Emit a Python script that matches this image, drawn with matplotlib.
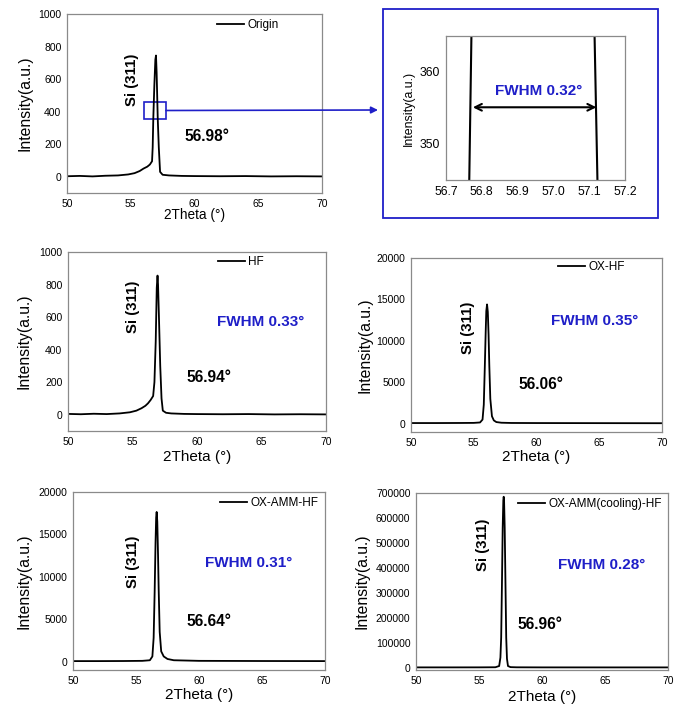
import numpy as np
import matplotlib
matplotlib.use("Agg")
import matplotlib.pyplot as plt
from matplotlib.patches import Rectangle

plt.rcParams["font.family"] = ["Liberation Sans", "DejaVu Sans"]

# =========================
# DATA
# =========================
ORIGIN_X = [50.0, 51.0, 52.0, 53.0, 54.0, 54.8, 55.3, 55.7, 56.0, 56.3, 56.5, 56.67, 56.72,
            56.765, 56.771, 56.85, 56.93, 56.98, 57.03, 57.115, 57.123, 57.2, 57.3, 57.5,
            58.0, 59.0, 60.0, 62.0, 64.0, 66.0, 68.0, 70.0]
ORIGIN_Y = [3, 5, 2, 6, 8, 14, 22, 35, 50, 62, 75, 95, 180,
            345, 365, 560, 720, 745, 640, 365, 345, 180, 30, 12,
            8, 5, 4, 3, 4, 2, 3, 2]

HF_X = [50, 51, 52, 53, 54, 54.8, 55.3, 55.7, 56.0, 56.2, 56.4, 56.6, 56.7, 56.8, 56.88,
        56.94, 56.98, 57.05, 57.15, 57.25, 57.35, 57.6, 58, 59, 60, 62, 64, 66, 68, 70]
HF_Y = [5, 3, 6, 4, 8, 15, 25, 40, 55, 70, 90, 115, 200, 450, 780,
        855, 800, 600, 300, 100, 25, 12, 8, 5, 4, 3, 4, 2, 3, 2]

OXHF_X = [50, 52, 54, 55, 55.5, 55.7, 55.8, 55.88, 55.95, 56.0, 56.06, 56.12, 56.18, 56.24,
          56.32, 56.45, 56.6, 56.8, 57.2, 58, 60, 65, 70]
OXHF_Y = [80, 80, 90, 100, 150, 500, 2300, 6800, 11000, 13600, 14400, 13500, 10800, 7000,
          3000, 900, 400, 200, 120, 90, 80, 70, 60]

OXAMM_X = [50, 52, 54, 55.5, 56.1, 56.3, 56.4, 56.48, 56.55, 56.6, 56.64, 56.69, 56.75, 56.8,
           56.88, 57.0, 57.2, 57.5, 58, 60, 65, 70]
OXAMM_Y = [50, 50, 60, 80, 150, 600, 2800, 8200, 14000, 17000, 17650, 16500, 12500, 8500,
           3500, 1200, 600, 300, 150, 80, 60, 50]

COOL_X = [50, 53, 55, 56.3, 56.6, 56.7, 56.76, 56.82, 56.88, 56.93, 56.96, 56.99, 57.04, 57.1,
          57.16, 57.22, 57.3, 57.5, 58, 60, 65, 70]
COOL_Y = [500, 500, 600, 1000, 6000, 40000, 120000, 330000, 560000, 670000, 685000, 670000,
          560000, 340000, 120000, 35000, 6000, 1500, 800, 500, 400, 400]

LABELS = ["Origin", "HF", "OX-HF", "OX-AMM-HF", "OX-AMM(cooling)-HF"]
PEAKS = ["56.98°", "56.94°", "56.06°", "56.64°", "56.96°"]
FWHM = ["0.32°", "0.33°", "0.35°", "0.31°", "0.28°"]

# =========================
# CONFIG
# =========================
W, H = 680, 710
BLUE = "#1f1fc8"
GREY = "#8a8a8a"
LW = 1.3


def px_rect(left, top, right, bottom):
    return [left / W, 1 - bottom / H, (right - left) / W, (bottom - top) / H]


def style_axes(ax, tick_size=7.5):
    for s in ax.spines.values():
        s.set_color(GREY)
        s.set_linewidth(0.9)
    ax.tick_params(length=0, labelsize=tick_size, pad=4)


def xrd_panel(fig, rect, x, y, label, ylim, yticks, leg_xy, texts, lab_coords, xlabel_size=11):
    ax = fig.add_axes(px_rect(*rect))
    ax.plot(x, y, color="black", lw=LW, label=label)
    ax.set_xlim(50, 70)
    ax.set_ylim(*ylim)
    ax.set_xticks([50, 55, 60, 65, 70])
    ax.set_yticks(yticks)
    style_axes(ax)
    ax.set_xlabel("2Theta (°)", fontsize=xlabel_size)
    ax.set_ylabel("Intensity(a.u.)", fontsize=11.3)
    ax.xaxis.set_label_coords(0.5, lab_coords[0])
    ax.yaxis.set_label_coords(lab_coords[1], 0.5)
    ax.legend(loc="center left", bbox_to_anchor=leg_xy, frameon=False, fontsize=8.5,
              borderpad=0, borderaxespad=0, handlelength=2.3, handletextpad=0.25)

    si_xy, peak_xy, fwhm_xy = texts
    ax.text(*si_xy, "Si (311)", rotation=90, ha="center", va="center",
            fontsize=10.8, fontweight="bold")
    ax.text(*peak_xy, PEAKS[LABELS.index(label)], ha="left", va="center",
            fontsize=11.2, fontweight="bold")
    if fwhm_xy is not None:
        ax.text(*fwhm_xy, "FWHM " + FWHM[LABELS.index(label)], ha="left", va="center",
                fontsize=11, fontweight="bold", color=BLUE)
    return ax


fig = plt.figure(figsize=(W / 100, H / 100), dpi=100)

# ---- Origin + zoomed inset ----
ax1 = xrd_panel(fig, (67, 14, 322, 193), ORIGIN_X, ORIGIN_Y, "Origin", (-100, 1000),
                np.arange(0, 1001, 200), (0.588, 0.939),
                ((55.1, 594), (59.25, 250), None), (-0.084, -0.137), xlabel_size=9.8)

ax1.add_patch(Rectangle((56.04, 355), 1.72, 104, fill=False, edgecolor=BLUE, lw=1.2))
ax1.annotate("", xy=(378 / W, 1 - 110 / H), xycoords="figure fraction",
             xytext=(57.76, 407), textcoords="data", annotation_clip=False,
             arrowprops=dict(arrowstyle="-|>", color=BLUE, lw=1.2,
                             shrinkA=0, shrinkB=0, mutation_scale=10))

fig.patches.append(Rectangle((383 / W, 1 - 218 / H), 275 / W, 209 / H, fill=False,
                             edgecolor=BLUE, lw=1.3, transform=fig.transFigure))

axi = fig.add_axes(px_rect(446, 36, 625, 180))
axi.plot(ORIGIN_X, ORIGIN_Y, color="black", lw=1.5)
axi.set_xlim(56.7, 57.2)
axi.set_ylim(345, 365)
axi.set_xticks([56.7, 56.8, 56.9, 57.0, 57.1, 57.2])
axi.set_xticklabels([f"{v:.1f}" for v in [56.7, 56.8, 56.9, 57.0, 57.1, 57.2]])
axi.set_yticks([350, 360])
style_axes(axi, tick_size=8.8)
axi.set_ylabel("Intensity(a.u.)", fontsize=8.9)
axi.yaxis.set_label_coords(-0.173, 0.5)
axi.annotate("", xy=(56.775, 355.1), xytext=(57.12, 355.1),
             arrowprops=dict(arrowstyle="<->", color="black", lw=1.5,
                             shrinkA=0, shrinkB=0, mutation_scale=12))
axi.text(56.96, 357.4, "FWHM " + FWHM[0], ha="center", va="center",
         fontsize=11, fontweight="bold", color=BLUE)

# ---- other samples ----
xrd_panel(fig, (68, 252, 326, 431), HF_X, HF_Y, "HF", (-100, 1000),
          np.arange(0, 1001, 200), (0.581, 0.944),
          ((55.04, 662), (59.15, 226), (61.55, 570)), (-0.106, -0.14))

xrd_panel(fig, (411, 258, 662, 432), OXHF_X, OXHF_Y, "OX-HF", (-1000, 20000),
          np.arange(0, 20001, 5000), (0.586, 0.948),
          ((54.54, 11552), (58.53, 4673), (61.16, 12397)), (-0.103, -0.155))

xrd_panel(fig, (73, 492, 325, 670), OXAMM_X, OXAMM_Y, "OX-AMM-HF", (-1000, 20000),
          np.arange(0, 20001, 5000), (0.583, 0.938),
          ((54.76, 11741), (58.97, 4663), (60.48, 11623)), (-0.101, -0.163))

xrd_panel(fig, (416, 493, 668, 670), COOL_X, COOL_Y, "OX-AMM(cooling)-HF", (-10000, 700000),
          np.arange(0, 700001, 100000), (0.405, 0.938),
          ((55.32, 491400), (58.02, 174500), (61.27, 411200)), (-0.113, -0.183))

fig.savefig("out.png", dpi=100)
